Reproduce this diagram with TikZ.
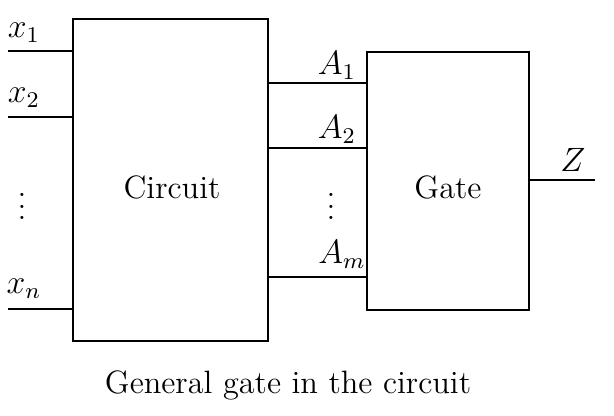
\documentclass[tikz,border=0pt]{standalone}
\usetikzlibrary{positioning}
\begin{document}
\begin{tikzpicture}[x=0.0125cm,y=-0.0125cm,font=\fontsize{11.5pt}{14pt}\selectfont,
    blk/.style={draw,line width=1pt,inner sep=0pt},
    wire/.style={line width=1pt},
    lbl/.style={inner sep=0pt}]
    \useasboundingbox (0,0) rectangle (614,415);
    % ---- 方框 ----
    \node[blk,minimum width={195*0.0125cm},minimum height={322*0.0125cm}] (circuit) at (170.5,180) {};
    \node[lbl] (circuittxt) at (172,187) {Circuit};
    \node[blk,minimum width={162*0.0125cm},minimum height={258*0.0125cm}] (gate) at (448,181) {};
    \node[lbl] (gatetxt) at (448,187) {Gate};
    % ---- 输入 ----
    \coordinate (in1) at (8,51);
    \coordinate (in2) at (8,117);
    \coordinate (inn) at (8,309);
    \foreach \c in {in1,in2,inn}
        \draw[wire] (\c) -- (\c -| circuit.west);
    \node[lbl] (lx1) at (24,33) {$x_1$};
    \node[lbl] (lx2) at (24,98) {$x_2$};
    \node[lbl] (lxdots) at (22,198) {$\vdots$};
    \node[lbl] (lxn) at (24,289) {$x_n$};
    % ---- 中间连线 ----
    \coordinate (a1) at (300,83);
    \coordinate (a2) at (300,148);
    \coordinate (am) at (300,277);
    \foreach \c in {a1,a2,am}
        \draw[wire] (\c -| circuit.east) -- (\c -| gate.west);
    \node[lbl] (la1) at (337,65) {$A_1$};
    \node[lbl] (la2) at (337,129) {$A_2$};
    \node[lbl] (ladots) at (331,198) {$\vdots$};
    \node[lbl] (lam) at (342,254) {$A_m$};
    % ---- 输出 ----
    \coordinate (zout) at (595,180);
    \draw[wire] (zout -| gate.east) -- (zout);
    \node[lbl] (lz) at (573,160) {$Z$};
    % ---- 标题 ----
    \node[lbl] (caption) at (288,385) {General gate in the circuit};
\end{tikzpicture}
\end{document}
